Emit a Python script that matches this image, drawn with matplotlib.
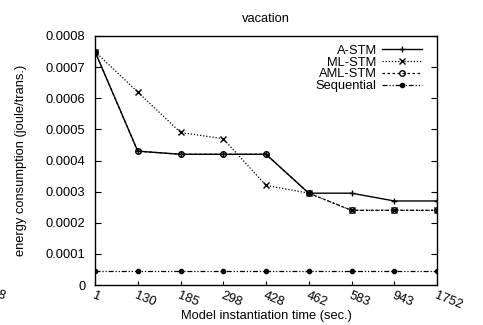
import matplotlib
matplotlib.use('Agg')
import matplotlib.pyplot as plt

plt.rcParams['font.family'] = ['Liberation Sans', 'DejaVu Sans']

# data
times = ['1', '130', '185', '298', '428', '462', '583', '943', '1752']
a_stm = [0.00075, 0.00043, 0.00042, 0.00042, 0.00042, 0.000295, 0.000295, 0.00027, 0.00027]
ml_stm = [0.00075, 0.00062, 0.00049, 0.00047, 0.00032, 0.000295, 0.00024, 0.00024, 0.00024]
aml_stm = [0.00075, 0.00043, 0.00042, 0.00042, 0.00042, 0.000295, 0.00024, 0.00024, 0.00024]
sequential = [0.000045] * 9

x = list(range(len(times)))
fs = 9.3

fig = plt.figure(figsize=(4.83, 3.25), dpi=100)
ax = fig.add_axes([95 / 483, 1 - 285 / 325, 342 / 483, 249 / 325])

ax.plot(x, a_stm, color='black', lw=1, ls='-', marker='+', ms=5, label='A-STM')
ax.plot(x, ml_stm, color='black', lw=0.9, ls=(0, (1, 1.5)), marker='x', ms=4, label='ML-STM')
ax.plot(x, aml_stm, color='black', lw=0.9, ls=(0, (2, 2)), marker='o', ms=4,
        mfc='none', label='AML-STM')
ax.plot(x, sequential, color='black', lw=0.9, ls=(0, (4, 1.5, 1, 1.5, 1, 1.5)), marker='o',
        ms=3, label='Sequential')

ax.set_xlim(0, 8)
ax.set_ylim(0, 0.0008)
ax.set_yticks([0, 0.0001, 0.0002, 0.0003, 0.0004, 0.0005, 0.0006, 0.0007, 0.0008])
ax.set_yticklabels(['0', '0.0001', '0.0002', '0.0003', '0.0004', '0.0005', '0.0006', '0.0007', '0.0008'])
ax.set_xticks(x)
ax.set_xticklabels(times, rotation=-22, ha='left', va='top', rotation_mode='anchor')
ax.tick_params(direction='in', labelsize=fs, length=4, right=True, top=False, pad=7)
ax.tick_params(axis='x', length=3, pad=3)
for s in ax.spines.values():
    s.set_linewidth(1)

ax.set_title('vacation', fontsize=fs, pad=10)
ax.set_xlabel('Model instantiation time (sec.)', fontsize=fs)
ax.xaxis.set_label_coords(0.5, -0.102)
ax.set_ylabel('energy consumption (joule/trans.)', fontsize=fs, labelpad=13)

ax.legend(loc='upper right', bbox_to_anchor=(0.956, 0.965), frameon=False,
          markerfirst=False, fontsize=fs, handlelength=3.1, labelspacing=-0.02,
          borderpad=0, borderaxespad=0, handletextpad=0.4)

# clipped tick label fragment at the left edge
fig.text(-0.01, 1 - 296 / 325, '8', fontsize=fs, rotation=-22, ha='left', va='center')

fig.savefig('out.png', dpi=100)
